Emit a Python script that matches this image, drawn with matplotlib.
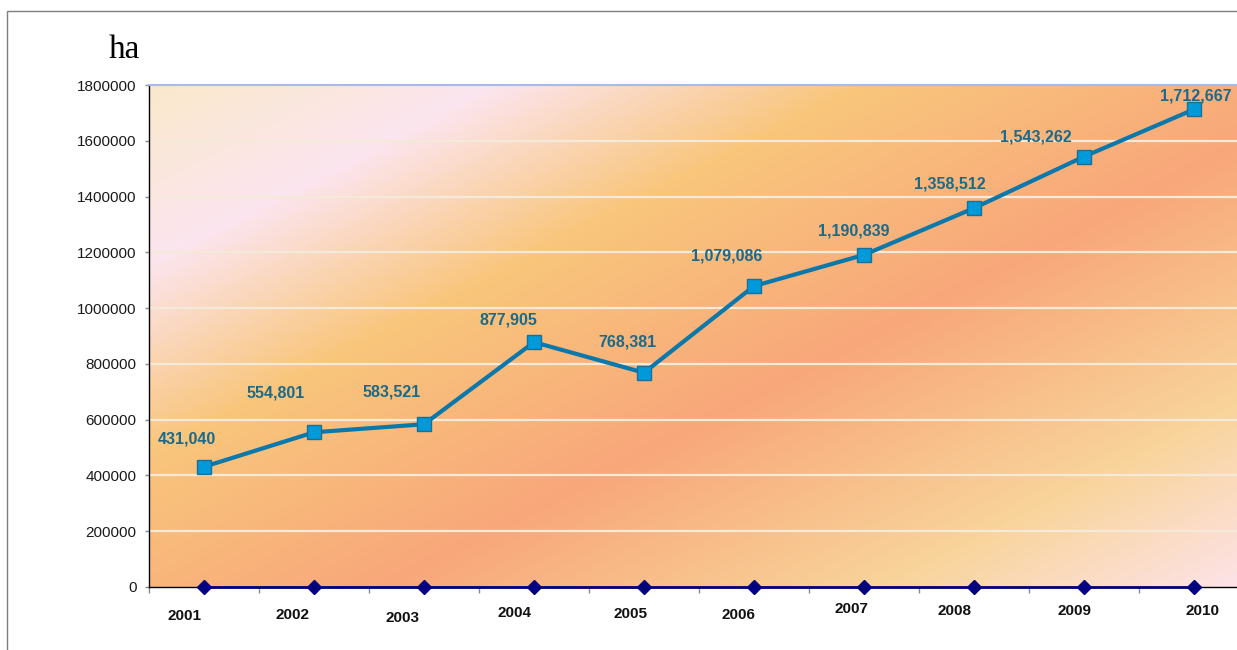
import numpy as np
import matplotlib
matplotlib.use("Agg")
import matplotlib.pyplot as plt
from matplotlib.colors import LinearSegmentedColormap
from matplotlib.patches import Rectangle

# ---- data -------------------------------------------------------------
years = ["2001", "2002", "2003", "2004", "2005",
         "2006", "2007", "2008", "2009", "2010"]
area_ha = [431040, 554801, 583521, 877905, 768381,
           1079086, 1190839, 1358512, 1543262, 1712667]
baseline = [0, 0, 0, 0, 0, 0, 0, 0, 0, 0]
y_ticks = [0, 200000, 400000, 600000, 800000,
           1000000, 1200000, 1400000, 1600000, 1800000]

# label placement (pixel offsets from each point / category)
value_label_offsets = [(-17, 28), (-38, 39), (-32, 32), (-26, 22), (-17, 31),
                       (-27, 30), (-10, 24), (-24, 24), (-48, 20), (2, 13)]
year_label_offsets = [(-20, -29), (-22, -28), (-21, -31), (-20, -26), (-13, -27),
                      (-16, -28), (-13, -22), (-20, -24), (-10, -24), (9, -24)]

# ---- figure -----------------------------------------------------------
W, H, DPI = 1237, 650, 100
fig = plt.figure(figsize=(W / DPI, H / DPI), dpi=DPI, facecolor="white")

# thin grey frame around the chart area
fig.patches.append(Rectangle((7 / W, -0.1), 1.2, 1 - 11 / H + 0.1,
                             transform=fig.transFigure, fill=False,
                             edgecolor="#7f7f7f", linewidth=1.0))

ax_l, ax_r, ax_t, ax_b = 149, 1249, 85, 587
ax = fig.add_axes([ax_l / W, (H - ax_b) / H,
                   (ax_r - ax_l) / W, (ax_b - ax_t) / H])

# warm diagonal gradient behind the plot
stops = [(145, "#FAE9CC"), (300, "#FCE5EF"), (470, "#F9C67C"),
         (700, "#F8A77A"), (930, "#F9D49A"), (1095, "#FDE3E8")]
tmin, tmax = stops[0][0], stops[-1][0]
cmap = LinearSegmentedColormap.from_list(
    "warm", [((t - tmin) / (tmax - tmin), c) for t, c in stops])
nu, nv = 400, 200
u = np.linspace(0, 1, nu)
v = np.linspace(0, 1, nv)
U, V = np.meshgrid(u, v)
px = ax_l + (ax_r - ax_l) * U
py = ax_t + (ax_b - ax_t) * V
tt = 0.46 * px + 0.89 * py
grad = np.clip((tt - tmin) / (tmax - tmin), 0, 1)
ax.imshow(grad, cmap=cmap, vmin=0, vmax=1, aspect="auto",
          extent=(0, 1, 0, 1), origin="upper", transform=ax.transAxes,
          zorder=0, interpolation="bilinear")

x = np.arange(len(years))
ax.set_xlim(-0.5, len(years) - 0.5)
ax.set_ylim(0, 1800000)

# horizontal gridlines
for yv in y_ticks[1:-1]:
    ax.axhline(yv, color="#F3EADA", linewidth=1.6, zorder=1)

# baseline series with navy diamonds
ax.plot(x, baseline, color="#000080", linewidth=2.0, marker="D",
        markersize=7, markerfacecolor="#000080", markeredgecolor="#000080",
        zorder=4, clip_on=False)

# main series
ax.plot(x, area_ha, color="#0B78AB", linewidth=3.0, marker="s",
        markersize=10, markerfacecolor="#0099DA", markeredgecolor="#17709A",
        markeredgewidth=1.0, zorder=5)

for xi, val, (dx, dy) in zip(x, area_ha, value_label_offsets):
    ax.annotate(f"{val:,}", xy=(xi, val), xytext=(dx, dy),
                textcoords="offset pixels", ha="center", va="center",
                fontsize=11.5, fontweight="bold", color="#1C6A89",
                family="Liberation Sans", zorder=6, annotation_clip=False)

for xi, yr, (dx, dy) in zip(x, years, year_label_offsets):
    ax.annotate(yr, xy=(xi, 0), xytext=(dx, dy), textcoords="offset pixels",
                ha="center", va="center", fontsize=11, fontweight="bold",
                color="#111111", family="Liberation Sans",
                annotation_clip=False)

# axes styling
ax.set_yticks(y_ticks)
ax.set_yticklabels([str(t) for t in y_ticks], family="Liberation Sans",
                   fontsize=11, color="#1a1a1a")
ax.tick_params(axis="y", direction="out", length=3, width=1,
               color="#8a8a8a", pad=6)
ax.set_xticks(np.arange(-0.5, len(years) + 0.5, 1.0))
ax.set_xticklabels([])
ax.tick_params(axis="x", direction="out", length=4, width=1, color="#8a8a8a")

ax.spines["left"].set_color("#000000")
ax.spines["left"].set_linewidth(1.0)
ax.spines["bottom"].set_color("#000000")
ax.spines["bottom"].set_linewidth(1.0)
ax.spines["top"].set_color("#A9B9EA")
ax.spines["top"].set_linewidth(1.5)
ax.spines["right"].set_visible(False)

# unit label
fig.text(124 / W, 1 - 50 / H, "ha", family="Liberation Serif", fontsize=24,
         ha="center", va="center", color="#000000")

fig.savefig("out.png", dpi=DPI, facecolor="white")
